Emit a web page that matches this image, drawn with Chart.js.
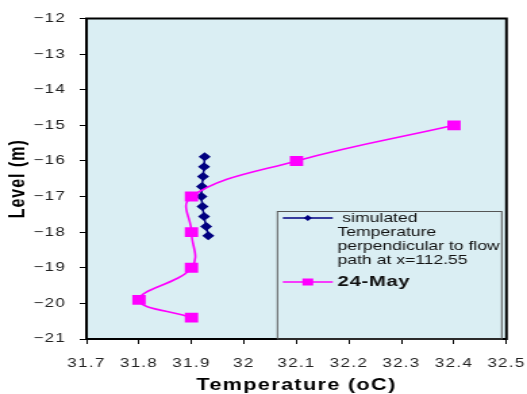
<!DOCTYPE html>
<html>
<head>
<meta charset="utf-8">
<script src="https://cdn.jsdelivr.net/npm/chart.js@4.4.1/dist/chart.umd.min.js"></script>
<style>
  html, body { margin: 0; padding: 0; background: #ffffff; }
  /* the original figure is stretched sideways, so the canvas is too */
  #chart { display: block; width: 527px; height: 394px; }
</style>
</head>
<body>
<canvas id="chart" width="390" height="394" style="width:527px;height:394px"></canvas>
<script>
// --- DATA ---
const simTemp = [31.925, 31.924, 31.922, 31.92, 31.919, 31.921, 31.924, 31.928, 31.932];
const simLevel = [-15.88, -16.16, -16.44, -16.72, -17.0, -17.28, -17.56, -17.84, -18.1];

const mayTemp = [32.4, 32.1, 31.9, 31.9, 31.9, 31.8, 31.9];
const mayLevel = [-15, -16, -17, -18, -19, -19.9, -20.4];

const xTickValues = [31.7, 31.8, 31.9, 32, 32.1, 32.2, 32.3, 32.4, 32.5];
const yTickValues = [-12, -13, -14, -15, -16, -17, -18, -19, -20, -21];

const simLabel = ["simulated", "Temperature", "perpendicular to flow", "path at x=112.55"];
const mayLabel = "24-May";

const FONT = "'Liberation Sans', Arial, sans-serif";
const NAVY = "#000080";
const PINK = "#FF00FF";

// --- PLUGINS ---

// plot area fill + frame, and the spaced-out text look
const plotFrame = {
    id: "plotFrame",
    beforeUpdate(chart) { chart.ctx.letterSpacing = "1px"; },
    beforeDraw(chart) {
        const { ctx, chartArea: a } = chart;
        ctx.letterSpacing = "1px";
        ctx.save();
        ctx.fillStyle = "#DAEEF3";
        ctx.fillRect(a.left, a.top, a.right - a.left, a.bottom - a.top);
        ctx.restore();
    },
    beforeDatasetsDraw(chart) {
        const { ctx, chartArea: a } = chart;
        ctx.save();
        ctx.strokeStyle = "#000";
        ctx.lineWidth = 2;
        ctx.strokeRect(a.left, a.top, a.right - a.left, a.bottom - a.top);
        ctx.restore();
    }
};

// boxed legend in the lower right of the plot, like the original
const boxLegend = {
    id: "boxLegend",
    afterDraw(chart) {
        const { ctx, chartArea: a } = chart;
        const left = a.right - 169.5;
        const top = 211.5;
        const sx = left + 4, ex = left + 41, mx = (sx + ex) / 2;
        const tx = left + 44.5;

        ctx.save();
        ctx.strokeStyle = "#555";
        ctx.lineWidth = 1;
        ctx.strokeRect(left, top, 166, a.bottom - top);

        // simulated entry
        let y = top + 6.5;
        ctx.strokeStyle = NAVY;
        ctx.lineWidth = 1.5;
        ctx.beginPath(); ctx.moveTo(sx, y); ctx.lineTo(ex, y); ctx.stroke();
        ctx.fillStyle = NAVY;
        ctx.beginPath();
        ctx.moveTo(mx, y - 3); ctx.lineTo(mx + 3, y); ctx.lineTo(mx, y + 3); ctx.lineTo(mx - 3, y);
        ctx.closePath(); ctx.fill();

        ctx.letterSpacing = "0px";
        ctx.fillStyle = "#111";
        ctx.font = "13px " + FONT;
        ctx.textBaseline = "middle";
        ctx.textAlign = "left";
        simLabel.forEach((line, i) => {
            ctx.fillText(line, i === 0 ? tx + 3.5 : tx, y + i * 14.2);
        });

        // 24-May entry
        y = top + 70.5;
        ctx.strokeStyle = PINK;
        ctx.beginPath(); ctx.moveTo(sx, y); ctx.lineTo(ex, y); ctx.stroke();
        ctx.fillStyle = PINK;
        ctx.fillRect(mx - 4, y - 3.5, 8, 7);
        ctx.fillStyle = "#111";
        ctx.font = "bold 15px " + FONT;
        ctx.letterSpacing = "0.5px";
        ctx.fillText(mayLabel, tx, y);
        ctx.restore();
    }
};

// --- CHART ---
const tickFont = { family: FONT, size: 12.5 };
const titleFont = { family: FONT, size: 16, weight: "bold", lineHeight: 1 };

new Chart(document.getElementById("chart"), {
    type: "scatter",
    data: {
        datasets: [
            {
                label: simLabel.join(" "),
                data: simTemp.map((t, i) => ({ x: t, y: simLevel[i] })),
                showLine: true,
                borderColor: NAVY,
                backgroundColor: NAVY,
                borderWidth: 1.5,
                pointStyle: "rectRot",
                pointRadius: 4.5,
                pointBorderWidth: 0,
                tension: 0.4,
                order: 1
            },
            {
                label: mayLabel,
                data: mayTemp.map((t, i) => ({ x: t, y: mayLevel[i] })),
                showLine: true,
                borderColor: PINK,
                backgroundColor: PINK,
                borderWidth: 1.6,
                pointStyle: "rect",
                pointRadius: 7,
                pointBorderWidth: 0,
                tension: 0.4,
                order: 0
            }
        ]
    },
    options: {
        responsive: false,
        animation: false,
        devicePixelRatio: 1,
        layout: { padding: { top: 18.5, right: 15.2, bottom: 0, left: 0 } },
        plugins: { legend: { display: false }, tooltip: { enabled: false } },
        scales: {
            x: {
                type: "linear",
                min: 31.7,
                max: 32.5,
                afterBuildTicks: s => { s.ticks = xTickValues.map(v => ({ value: v })); },
                // the last label is allowed to run to the page edge
                afterFit: s => { s.height = 55; s.paddingLeft = 0; s.paddingRight = 0; },
                grid: { drawOnChartArea: false, tickLength: 5, color: "#000", lineWidth: 1 },
                border: { color: "#000", width: 2 },
                ticks: {
                    font: tickFont,
                    color: "#222",
                    padding: 12,
                    maxRotation: 0,
                    autoSkip: false,
                    callback: v => String(Math.round(v * 10) / 10)
                },
                title: { display: true, text: "Temperature (oC)", font: titleFont, color: "#000", padding: { top: 0, bottom: 0 } }
            },
            y: {
                type: "linear",
                min: -21,
                max: -12,
                afterBuildTicks: s => { s.ticks = yTickValues.map(v => ({ value: v })); },
                afterFit: s => { s.width = 64; s.paddingTop = 0; s.paddingBottom = 0; },
                grid: { drawOnChartArea: false, tickLength: 5, color: "#000", lineWidth: 1 },
                border: { color: "#000", width: 2 },
                ticks: {
                    font: tickFont,
                    color: "#222",
                    padding: 10,
                    autoSkip: false,
                    callback: v => "\u2212" + Math.abs(v)
                },
                title: { display: true, text: "Level (m)", font: titleFont, color: "#000", padding: { top: 6, bottom: 0 } }
            }
        }
    },
    plugins: [plotFrame, boxLegend]
});
</script>
</body>
</html>
